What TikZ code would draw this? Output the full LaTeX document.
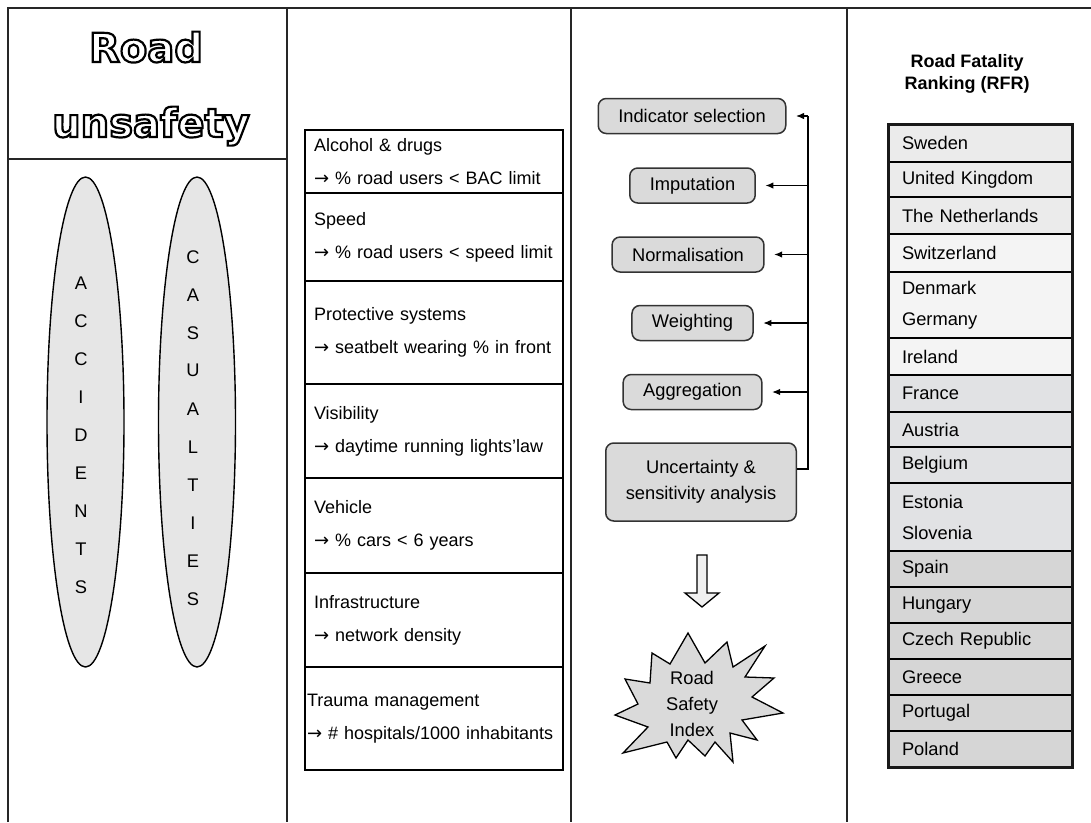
\documentclass[tikz,border=0pt]{standalone}
\usepackage{fontspec}
\setmainfont{Liberation Sans}
\newfontfamily\titlefont{DejaVu Sans}
\newfontfamily\symfont{DejaVu Sans}
\usetikzlibrary{positioning,shapes.geometric,arrows.meta}
\definecolor{boxgray}{HTML}{DADADA}
\definecolor{ellgray}{HTML}{E6E6E6}
\definecolor{rankA}{HTML}{EBEBEB}
\definecolor{rankB}{HTML}{F4F4F4}
\definecolor{rankC}{HTML}{E1E2E4}
\definecolor{rankD}{HTML}{D6D6D6}
\newcommand{\rarr}{{\symfont →}}
% hollow letters: stroke the glyph outlines only
\newcommand{\hollow}[1]{\special{pdf:literal direct 1 Tr 2.2 w}#1\special{pdf:literal direct 0 Tr}}
\begin{document}
\begin{tikzpicture}[x=1pt, y=-1pt,
  every node/.style={font=\fontsize{18.3}{26}\selectfont},
  frame/.style={line width=2pt, draw=black!85},
  titletext/.style={anchor=base, font=\titlefont\bfseries\fontsize{40}{40}\selectfont},
  oval/.style={ellipse, draw, line width=1.4pt, fill=ellgray, minimum width=77pt, minimum height=490pt, inner sep=0pt},
  letter/.style={inner sep=0pt},
  rowbox/.style={draw, line width=1.5pt, outer sep=0pt, minimum width=258pt, text width=240pt, inner xsep=9pt, align=left, font=\fontsize{18}{33}\selectfont},
  stepbox/.style={draw=black!80, line width=1.5pt, rounded corners=8pt, fill=boxgray, minimum height=35pt, inner xsep=20pt},
  fbline/.style={line width=1.2pt},
  fbarrow/.style={-{Latex[length=8pt,width=6.5pt]}, line width=1.2pt, shorten >=9.5pt},
  rankrow/.style={draw, line width=1.6pt, outer sep=0pt, minimum width=184pt, text width=156pt, inner xsep=14pt, align=left, font=\fontsize{18.3}{31}\selectfont}]
\useasboundingbox (0,0) rectangle (1091,822);

% frame and columns
\draw[frame] (8,822) -- (8,8) -- (1091,8);
\draw[frame] (287,8) -- (287,822);
\draw[frame, line width=2.6pt] (571,8) -- (571,822);
\draw[frame] (847,8) -- (847,822);
\draw[frame] (8,159) -- (287,159);

% road unsafety
\node[titletext] (road) at (146,62) {\hollow{Road}};
\node[titletext] (unsafety) at (151,137) {\hollow{unsafety}};
\node[oval] (acc) at (85.5,422) {};
\node[oval] (cas) at (197,422) {};
\foreach \l [count=\i from 0] in {A,C,C,I,D,E,N,T,S}
  \node[letter] (acc\i) at (81,282.7+38*\i) {\l};
\foreach \l [count=\i from 0] in {C,A,S,U,A,L,T,I,E,S}
  \node[letter] (cas\i) at (193,256.7+38*\i) {\l};

% indicators
\node[rowbox, minimum height=63pt, anchor=north west] (alc) at (305,130) {Alcohol \& drugs\\\rarr\ \% road users < BAC limit};
\node[rowbox, minimum height=88pt, below=0pt of alc] (spd) {Speed\\\rarr\ \% road users < speed limit};
\node[rowbox, minimum height=103pt, below=0pt of spd] (prot) {Protective systems\\\rarr\ seatbelt wearing \% in front};
\node[rowbox, minimum height=94pt, below=0pt of prot] (vis) {Visibility\\\rarr\ daytime running lights’law};
\node[rowbox, minimum height=95pt, below=0pt of vis] (veh) {Vehicle\\\rarr\ \% cars < 6 years};
\node[rowbox, minimum height=94pt, below=0pt of veh] (inf) {Infrastructure\\\rarr\ network density};
\node[rowbox, minimum height=103pt, inner xsep=2pt, text width=254pt, below=0pt of inf] (trau) {Trauma management\\\mbox{\rarr\ \# hospitals/1000 inhabitants}};

% composite index steps
\node[stepbox] (ind) at (692,116) {Indicator selection};
\node[stepbox] (imp) at (692.5,185.5) {Imputation};
\node[stepbox] (nor) at (688,254.5) {Normalisation};
\node[stepbox] (wei) at (692.5,323) {Weighting};
\node[stepbox] (agg) at (692.5,392) {Aggregation};
\node[stepbox, minimum height=78pt, align=center] (unc) at (701,482) {Uncertainty \&\\sensitivity analysis};
\coordinate (fbtop) at (808,116);
\coordinate (fbbot) at (808,469);
\draw[fbline] (fbbot -| unc.east) -- (fbbot) -- (fbtop);
\foreach \n in {ind,imp,nor,wei,agg}
  \draw[fbarrow] (\n.east -| fbtop) -- (\n.east);
\draw[line width=1.3pt, fill=black!6] (697,555) -- (707,555) -- (707,593) -- (719,593) -- (702,607) -- (685,593) -- (697,593) -- cycle;
\draw[line width=1.3pt, fill=boxgray] (688,633) -- (705,663) -- (727,642) -- (733,667) -- (765,646) -- (745,677) -- (774,678) -- (752,697) -- (783,713) -- (742,720) -- (757,740) -- (730,733) -- (733,762) -- (715,742) -- (705,756) -- (688,740) -- (676,758) -- (667,742) -- (623,753) -- (648,727) -- (615,715) -- (638,704) -- (625,679) -- (650,683) -- (652,653) -- (670,664) -- cycle;
\node[align=center] (rsi) at (692,704) {Road\\Safety\\Index};

% road fatality ranking
\node[align=center, font=\bfseries\fontsize{18}{22}\selectfont] (rfr) at (967,74) {Road Fatality\\Ranking (RFR)};
\node[rankrow, fill=rankA, minimum height=38pt, anchor=north west] (c1) at (888,124) {Sweden};
\node[rankrow, fill=rankA, minimum height=35pt, below=0pt of c1] (c2) {United Kingdom};
\node[rankrow, fill=rankA, minimum height=37pt, below=0pt of c2] (c3) {The Netherlands};
\node[rankrow, fill=rankB, minimum height=38pt, below=0pt of c3] (c4) {Switzerland};
\node[rankrow, fill=rankB, minimum height=66pt, below=0pt of c4] (c5) {Denmark\\Germany};
\node[rankrow, fill=rankB, minimum height=37pt, below=0pt of c5] (c6) {Ireland};
\node[rankrow, fill=rankC, minimum height=37pt, below=0pt of c6] (c7) {France};
\node[rankrow, fill=rankC, minimum height=35pt, below=0pt of c7] (c8) {Austria};
\node[rankrow, fill=rankC, minimum height=36pt, below=0pt of c8] (c9) {Belgium};
\node[rankrow, fill=rankC, minimum height=68pt, below=0pt of c9] (c10) {Estonia\\Slovenia};
\node[rankrow, fill=rankD, minimum height=36pt, below=0pt of c10] (c11) {Spain};
\node[rankrow, fill=rankD, minimum height=36pt, below=0pt of c11] (c12) {Hungary};
\node[rankrow, fill=rankD, minimum height=36pt, below=0pt of c12] (c13) {Czech Republic};
\node[rankrow, fill=rankD, minimum height=36pt, below=0pt of c13] (c14) {Greece};
\node[rankrow, fill=rankD, minimum height=36pt, below=0pt of c14] (c15) {Portugal};
\node[rankrow, fill=rankD, minimum height=36pt, below=0pt of c15] (c16) {Poland};
\draw[line width=3pt, black!90] (c1.north west) rectangle (c16.south east);
\end{tikzpicture}
\end{document}
